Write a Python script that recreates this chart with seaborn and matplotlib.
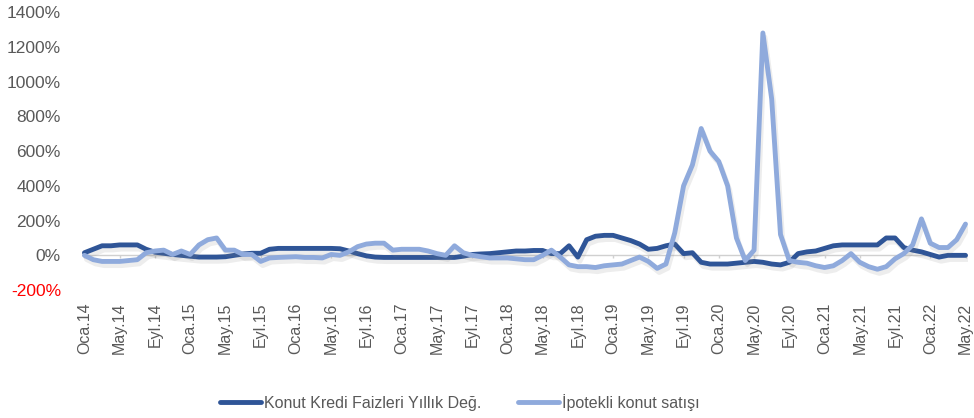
import numpy as np
import pandas as pd
import matplotlib as mpl
import matplotlib.pyplot as plt
import matplotlib.patheffects as pe
import seaborn as sb

mpl.use('Agg')

# monthly values, Oca.14 .. May.22 (percent)
konut_kredi = [15, 35, 55, 55, 60, 60, 60, 35, 18, 12, 5, 0, -5, -10, -10, -10, -8, 0, 8, 12,
               12, 35, 40, 40, 40, 40, 40, 40, 40, 38, 25, 10, -3, -10, -12, -12, -12, -12, -12, -12,
               -12, -12, -12, -5, 5, 8, 10, 15, 20, 25, 25, 28, 28, 10, 10, 55, -10, 90, 110, 115,
               115, 100, 85, 65, 35, 40, 55, 65, 10, 15, -40, -50, -50, -50, -45, -40, -35, -40, -50, -55,
               -40, 10, 20, 25, 40, 55, 60, 60, 60, 60, 60, 100, 100, 45, 30, 20, 5, -10, 0, 0, 0]
ipotekli = [0, -25, -35, -35, -35, -30, -25, 15, 25, 30, 5, 25, 5, 60, 90, 100, 30, 30, 5, 5,
            -35, -15, -12, -10, -8, -12, -12, -15, 5, 0, 20, 50, 65, 70, 70, 30, 35, 35, 35, 25,
            10, 0, 55, 15, 0, -8, -15, -15, -15, -20, -25, -25, 0, 30, -10, -55, -65, -65, -70, -60,
            -55, -50, -30, -10, -35, -75, -50, 130, 400, 520, 730, 600, 540, 400, 100, -30, 30, 1280, 900, 120,
            -30, -40, -45, -60, -70, -60, -30, 10, -40, -65, -80, -65, -20, 10, 60, 210, 70, 45, 45, 90,
            180]

aylar = ['Oca', 'Şub', 'Mar', 'Nis', 'May', 'Haz', 'Tem', 'Ağu', 'Eyl', 'Eki', 'Kas', 'Ara']
months = ['{}.{}'.format(aylar[i % 12], 14 + i // 12) for i in range(len(ipotekli))]
y_ticks = list(range(-200, 1401, 200))

sb.set_style('white')
plt.rcParams['font.family'] = ['Liberation Sans', 'DejaVu Sans']

series = ['Konut Kredi Faizleri Yıllık Değ.', 'İpotekli konut satışı']
df = pd.DataFrame({
    'idx': np.tile(np.arange(len(months)), 2),
    'val': konut_kredi + ipotekli,
    'seri': np.repeat(series, len(months)),
})

fig = plt.figure(figsize=(9.74, 4.18), dpi=100)
ax = fig.add_axes([0.084, 0.306, 0.91, 0.665])

shadow = [pe.SimpleLineShadow(offset=(1.5, -3), shadow_color='#888888', alpha=0.15), pe.Normal()]
sb.lineplot(x='idx', y='val', hue='seri', data=df, palette=['#2F5597', '#8FAADC'],
            linewidth=3.5, ax=ax, legend=False)
for line in ax.get_lines():
    line.set_path_effects(shadow)
    line.set_solid_capstyle('round')
    line.set_solid_joinstyle('round')

grey = '#595959'
ax.axhline(0, color='#D0D0D0', lw=1, zorder=0)
tick_pos = list(range(0, len(months), 4))
ax.vlines(tick_pos, -18, 0, color='#D0D0D0', lw=1, zorder=0)

ax.set_xlim(-0.3, len(months) - 0.7)
ax.set_ylim(-200, 1400)
ax.set_yticks(y_ticks)
ax.set_yticklabels(['{}%'.format(v) for v in y_ticks])
for lab, v in zip(ax.get_yticklabels(), y_ticks):
    lab.set_color('#FF0000' if v < 0 else grey)
ax.set_xticks(tick_pos)
ax.set_xticklabels([months[i] for i in tick_pos], rotation=90, color=grey)
ax.tick_params(axis='both', length=0, labelsize=11.5)
ax.tick_params(axis='y', labelsize=12.5, pad=15)
ax.tick_params(axis='x', pad=9)
ax.set_xlabel('')
ax.set_ylabel('')
for s in ax.spines.values():
    s.set_visible(False)

handles = [mpl.lines.Line2D([], [], color=c, lw=3.5, solid_capstyle='round')
           for c in ['#2F5597', '#8FAADC']]
fig.legend(handles, series, loc='center', bbox_to_anchor=(0.472, 0.038), ncol=2, frameon=False,
           fontsize=11.5, labelcolor=grey, handlelength=2.6, handletextpad=0.15, columnspacing=2.3)

fig.savefig('out.png', dpi=100)
